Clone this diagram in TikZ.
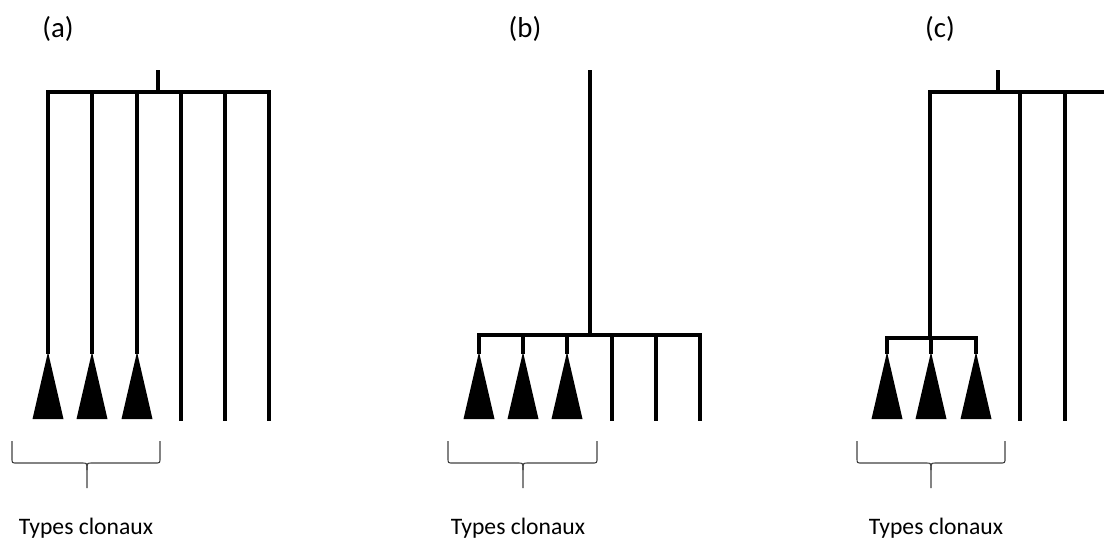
\documentclass[tikz,border=0pt]{standalone}
\usepackage{fontspec}
\setmainfont{Carlito}
\usetikzlibrary{positioning}
\definecolor{cInk}{HTML}{000000}
\definecolor{cBrace}{HTML}{404040}
\tikzset{
  branch/.style  = {draw=cInk, line width=2.4pt, line cap=rect},
  clone/.style   = {fill=cInk, draw=none},
  bracket/.style = {draw=cBrace, line width=0.8pt},
  panel/.style   = {font=\fontsize{20.5}{24}\selectfont, inner sep=0pt},
  caption/.style = {font=\fontsize{16.8}{20}\selectfont, inner sep=0pt},
}
% filled triangle hanging under a leaf
\newcommand{\clonetri}[1]{\fill[clone] (#1,352) -- (#1-15.5,419) -- (#1+15.5,419) -- cycle;}
% curly bracket under the clonal types: left, right, middle
\newcommand{\clonebrace}[3]{%
  \draw[bracket] (#1,441) -- (#1,458) .. controls (#1,463) .. (#1+5,463) -- (#3-5,463)
    .. controls (#3,463) .. (#3,470) -- (#3,488);
  \draw[bracket] (#2,441) -- (#2,458) .. controls (#2,463) .. (#2-5,463) -- (#3+5,463)
    .. controls (#3,463) .. (#3,470);}

\begin{document}
\begin{tikzpicture}[x=0.025cm, y=-0.025cm]
  \useasboundingbox (0,0) rectangle (1104,541);

  % (a) star tree, clones at the tips
  \node[panel] (lblA) at (58,29) {(a)};
  \coordinate (aRoot) at (158,72);
  \coordinate (aTop) at (158,92);
  \draw[branch] (aRoot) -- (aTop);
  \foreach \i/\x in {1/48,2/92,3/137,4/181,5/225,6/269}
    \coordinate (a\i) at (\x,92);
  \draw[branch] (a1) -- (a6);
  \foreach \i/\x in {1/48,2/92,3/137} {
    \coordinate (a\i t) at (\x,352);
    \draw[branch] (a\i) -- (a\i t);
    \clonetri{\x}
  }
  \foreach \i/\x in {4/181,5/225,6/269} {
    \coordinate (a\i t) at (\x,419);
    \draw[branch] (a\i) -- (a\i t);
  }
  \clonebrace{12}{160}{87}
  \node[caption] (capA) at (86,528) {Types clonaux};

  % (b) long stem, late star burst
  \node[panel] (lblB) at (525,29) {(b)};
  \coordinate (bRoot) at (590,72);
  \coordinate (bTop) at (590,335);
  \draw[branch] (bRoot) -- (bTop);
  \foreach \i/\x in {1/479,2/523,3/567,4/612,5/656,6/700}
    \coordinate (b\i) at (\x,335);
  \draw[branch] (b1) -- (b6);
  \foreach \i/\x in {1/479,2/523,3/567} {
    \coordinate (b\i t) at (\x,352);
    \draw[branch] (b\i) -- (b\i t);
    \clonetri{\x}
  }
  \foreach \i/\x in {4/612,5/656,6/700} {
    \coordinate (b\i t) at (\x,419);
    \draw[branch] (b\i) -- (b\i t);
  }
  \clonebrace{448}{597}{523}
  \node[caption] (capB) at (518,528) {Types clonaux};

  % (c) clones grouped on one deep branch
  \node[panel] (lblC) at (940,29) {(c)};
  \coordinate (cRoot) at (998,72);
  \coordinate (cTop) at (998,92);
  \draw[branch] (cRoot) -- (cTop);
  \coordinate (c1) at (930,92);
  \coordinate (c2) at (1020,92);
  \coordinate (c3) at (1065,92);
  \coordinate (cEnd) at (1104,92);
  \draw[branch] (c1) -- (cEnd);
  \coordinate (cSub) at (930,338);
  \draw[branch] (c1) -- (cSub);
  \foreach \i/\x in {2/1020,3/1065} {
    \coordinate (c\i t) at (\x,419);
    \draw[branch] (c\i) -- (c\i t);
  }
  \coordinate (s1) at (887,338);
  \coordinate (s3) at (976,338);
  \draw[branch] (s1) -- (s3);
  \foreach \i/\x in {1/887,2/931,3/976} {
    \coordinate (s\i t) at (\x,352);
    \draw[branch] (\x,338) -- (s\i t);
    \clonetri{\x}
  }
  \clonebrace{857}{1005}{931}
  \node[caption] (capC) at (936,528) {Types clonaux};
\end{tikzpicture}
\end{document}
